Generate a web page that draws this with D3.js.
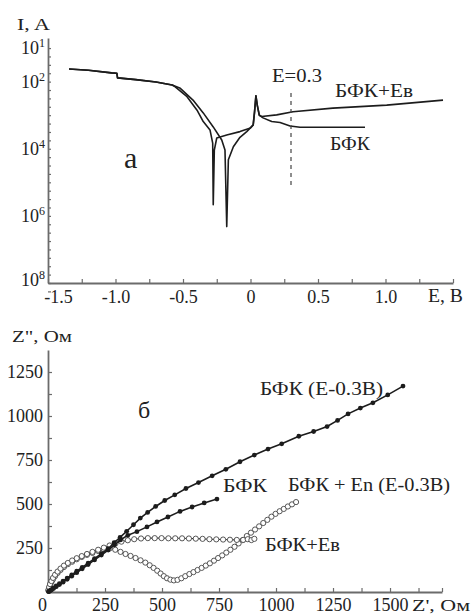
<!DOCTYPE html>
<html>
<head>
<meta charset="utf-8">
<script src="https://cdn.jsdelivr.net/npm/d3@7"></script>
<style>
  body { margin: 0; background: #fff; }
  svg text { font-family: "Liberation Serif", "Times New Roman", serif; fill: #222; }
</style>
</head>
<body>
<svg id="chart" width="471" height="615"></svg>
<script>
// ---- panel a: polarisation curves, [E (V), I (A)] ----
const bfkPolar = [
  [-1.344, 2.37e-2], [-1.20, 2.19e-2], [-1.03, 1.82e-2], [-0.99, 1.78e-2], [-0.985, 1.29e-2],
  [-0.85, 1.15e-2], [-0.70, 9.77e-3], [-0.58, 7.94e-3], [-0.56, 7.08e-3], [-0.47, 3.55e-3],
  [-0.396, 1.41e-3], [-0.35, 6.46e-4], [-0.30, 3.63e-4], [-0.28, 1.48e-4], [-0.276, 2.14e-6],
  [-0.268, 9.12e-5], [-0.25, 2.09e-4], [-0.176, 2.57e-4], [-0.078, 3.24e-4], [0.0, 4.17e-4],
  [0.02, 5.13e-4], [0.03, 1.26e-3], [0.04, 3.80e-3], [0.05, 2.00e-3], [0.065, 1.00e-3],
  [0.093, 8.32e-4], [0.157, 6.46e-4], [0.219, 6.03e-4], [0.293, 4.79e-4], [0.367, 4.37e-4],
  [0.848, 4.37e-4]
]
const bfkEvPolar = [
  [-1.344, 2.37e-2], [-1.20, 2.19e-2], [-1.03, 1.82e-2], [-0.99, 1.78e-2], [-0.985, 1.29e-2],
  [-0.85, 1.15e-2], [-0.70, 9.77e-3], [-0.58, 7.94e-3], [-0.52, 6.31e-3], [-0.426, 2.82e-3],
  [-0.35, 1.17e-3], [-0.276, 4.47e-4], [-0.213, 1.82e-4], [-0.189, 9.12e-5], [-0.176, 4.79e-7],
  [-0.164, 4.68e-5], [-0.127, 1.15e-4], [-0.078, 2.19e-4], [-0.028, 3.24e-4], [0.02, 5.13e-4],
  [0.03, 1.26e-3], [0.04, 3.80e-3], [0.05, 2.00e-3], [0.065, 1.00e-3], [0.083, 9.12e-4],
  [0.194, 1.02e-3], [0.315, 1.26e-3], [0.61, 1.62e-3], [1.009, 2.00e-3], [1.426, 2.82e-3]
]
const eTicks = [-1.5, -1.25, -1.0, -0.75, -0.5, -0.25, 0, 0.25, 0.5, 0.75, 1.0, 1.25, 1.5]
const eLabels = [-1.5, -1.0, -0.5, 0, 0.5, 1.0]
const iLabels = [1e-1, 1e-2, 1e-4, 1e-6, 1e-8]
const iLabelExp = ["1", "2", "4", "6", "8"]
const markE = 0.3

// ---- panel б: impedance, [Z' (Ohm), Z'' (Ohm)] ----
const bfkE03 = [
  [3, 3], [8, 8], [15, 14], [24, 23], [36, 34], [50, 47], [66, 62], [84, 79], [104, 97], [126, 118],
  [150, 140], [176, 164], [204, 190], [234, 218], [264, 246], [290, 280], [316, 310], [345, 345],
  [375, 382], [405, 420], [437, 452], [472, 486], [512, 520], [556, 552], [605, 588], [660, 622],
  [720, 660], [780, 697], [842, 740], [905, 778], [965, 812], [1025, 842], [1100, 885], [1165, 912],
  [1224, 940], [1270, 975], [1316, 1012], [1370, 1045], [1425, 1075], [1490, 1120], [1557, 1170]
]
const bfk = [
  [3, 2], [8, 6], [15, 12], [24, 20], [36, 30], [50, 42], [66, 56], [84, 72], [104, 90], [126, 110],
  [150, 132], [176, 156], [204, 182], [234, 210], [264, 238], [292, 268], [318, 296], [350, 322],
  [390, 343], [434, 370], [478, 398], [526, 426], [579, 458], [632, 483], [685, 506], [741, 528]
]
const bfkEn = [
  [2, 8], [5, 22], [9, 38], [15, 55], [22, 72], [31, 90], [42, 108], [55, 125], [70, 142], [87, 158],
  [106, 172], [126, 186], [148, 199], [171, 211], [195, 222], [220, 233], [245, 242], [270, 247],
  [295, 240], [318, 228], [340, 216], [362, 205], [384, 193], [406, 180], [427, 167], [446, 152],
  [463, 137], [479, 121], [494, 105], [508, 90], [522, 78], [537, 70], [552, 66], [568, 69],
  [585, 78], [602, 90], [620, 102], [638, 113], [656, 125], [674, 137], [692, 150], [710, 163],
  [728, 178], [746, 193], [764, 208], [782, 224], [800, 240], [818, 257], [836, 276], [854, 295],
  [872, 318], [890, 337], [908, 355], [926, 373], [944, 392], [962, 410], [980, 428], [998, 444],
  [1016, 459], [1034, 472], [1052, 486], [1070, 498], [1088, 511]
]
const bfkEv = [
  [2, 12], [5, 28], [9, 45], [15, 62], [22, 80], [31, 98], [42, 116], [55, 133], [70, 150], [87, 165],
  [106, 179], [126, 192], [148, 204], [171, 216], [195, 228], [220, 240], [245, 252], [270, 264],
  [296, 276], [322, 286], [350, 294], [378, 300], [408, 304], [438, 306], [468, 306], [498, 306],
  [528, 305], [558, 305], [588, 305], [618, 304], [648, 303], [678, 302], [708, 300], [738, 299],
  [768, 298], [798, 297], [828, 296], [856, 296], [876, 300], [892, 295], [905, 302]
]
const zTicks = [0, 125, 250, 375, 500, 625, 750, 875, 1000, 1125, 1250, 1375, 1500, 1625]
const zLabels = [0, 250, 500, 750, 1000, 1250, 1500]
const zyTicks = [125, 250, 375, 500, 625, 750, 875, 1000, 1125, 1250]
const zyLabels = [250, 500, 750, 1000, 1250]

const svg = d3.select("#chart")
const ink = "#1c1c1c"
const axisCol = "#6b6b6b"
const serif = "'Liberation Serif', 'Times New Roman', serif"

function styleAxis(g) {
    g.attr("font-family", null)
    g.select(".domain").attr("stroke", axisCol).attr("stroke-width", 1.8)
    g.selectAll(".tick line").attr("stroke", axisCol).attr("stroke-width", 1.2)
    g.selectAll(".tick text").attr("font-size", 18).style("font-family", serif).attr("fill", "#2a2a2a")
}

function label(x, y, txt, size, len) {
    const t = svg.append("text").attr("x", x).attr("y", y).attr("font-size", size)
        .style("font-family", serif).text(txt)
    if (len) t.attr("textLength", len).attr("lengthAdjust", "spacingAndGlyphs")
    return t
}

const fmtE = d => d === 0 ? "0" : (d < 0 ? "-" : "") + Math.abs(d).toFixed(1)

// ---------- panel a ----------
const xE = d3.scaleLinear().domain([-1.5, 1.5]).range([48, 453])
const yI = d3.scaleLog().domain([1e-8, 10 ** -0.7]).range([283, 38])
const iTicks = d3.range(0, 30).map(k => 10 ** (-1 - k / 4))

const gxA = svg.append("g")
    .attr("transform", "translate(0,283)")
    .call(d3.axisBottom(xE).tickValues(eTicks).tickSizeInner(-4).tickSizeOuter(0).tickPadding(7)
        .tickFormat(d => eLabels.includes(d) ? fmtE(d) : ""))
    .call(styleAxis)
// first label sits a little right of its tick, as in the source figure
gxA.selectAll(".tick text").filter(d => d === -1.5).attr("dx", 10)

svg.append("g")
    .attr("transform", "translate(48,0)")
    .call(d3.axisLeft(yI).tickValues(iTicks).tickSizeInner(-3).tickSizeOuter(0).tickFormat(() => ""))
    .call(styleAxis)

iLabels.forEach((v, i) => {
    const t = svg.append("text").attr("x", 45).attr("y", yI(v) + (i === 4 ? 3 : 6))
        .attr("text-anchor", "end").attr("font-size", 18).attr("fill", "#2a2a2a")
        .style("font-family", serif)
    t.append("tspan").text("10")
    t.append("tspan").attr("dy", -7).attr("font-size", 12).text(iLabelExp[i])
})

const lineA = d3.line().x(d => xE(d[0])).y(d => yI(d[1]))
;[bfkPolar, bfkEvPolar].forEach(s => {
    svg.append("path").datum(s).attr("d", lineA)
        .attr("fill", "none").attr("stroke", ink).attr("stroke-width", 1.6)
        .attr("stroke-linejoin", "round")
})

svg.append("line")
    .attr("x1", xE(markE)).attr("x2", xE(markE))
    .attr("y1", 93).attr("y2", 186)
    .attr("stroke", "#444").attr("stroke-width", 1.2).attr("stroke-dasharray", "4,4")

label(17, 30, "I, A", 17, 33)
label(428, 302, "E, В", 18, 35)
label(272, 82, "E=0.3", 18, 50)
label(335, 97, "БФК+Ев", 18, 78)
label(330, 150, "БФК", 18, 40)
label(124, 168, "а", 30)

// ---------- panel б ----------
const xZ = d3.scaleLinear().domain([0, 1728]).range([48, 442])
const yZ = d3.scaleLinear().domain([0, 1375]).range([592, 350])

const gxB = svg.append("g")
    .attr("transform", "translate(0,592)")
    .call(d3.axisBottom(xZ).tickValues(zTicks.concat([1728])).tickSizeInner(-4).tickSizeOuter(0).tickPadding(6)
        .tickFormat(d => zLabels.includes(d) ? String(d) : ""))
    .call(styleAxis)
gxB.selectAll(".tick text").filter(d => d === 0).attr("dx", -6)

svg.append("g")
    .attr("transform", "translate(48,0)")
    .call(d3.axisLeft(yZ).tickValues(zyTicks).tickSizeInner(-4).tickSizeOuter(0).tickPadding(5)
        .tickFormat(d => zyLabels.includes(d) ? String(d) : ""))
    .call(styleAxis)

const lineB = d3.line().x(d => xZ(d[0])).y(d => yZ(d[1]))

function series(data, filled) {
    svg.append("path").datum(data).attr("d", lineB)
        .attr("fill", "none").attr("stroke", filled ? ink : "#333")
        .attr("stroke-width", filled ? 1.6 : 1.1)
    svg.append("g").selectAll("circle").data(data).join("circle")
        .attr("cx", d => xZ(d[0])).attr("cy", d => yZ(d[1]))
        .attr("r", filled ? 2.4 : 2.6)
        .attr("fill", filled ? ink : "#fff")
        .attr("stroke", filled ? "none" : "#444")
        .attr("stroke-width", 0.9)
}
series(bfkEn, false)
series(bfkEv, false)
series(bfk, true)
series(bfkE03, true)

label(12, 342, "Z\", Ом", 17, 60)
label(412, 611, "Z', Ом", 17, 58)
label(138, 418, "б", 24)
label(260, 395, "БФК (E-0.3В)", 18, 123)
label(223, 492, "БФК", 18, 44)
label(288, 491, "БФК + En (E-0.3В)", 18, 162)
label(265, 551, "БФК+Ев", 18, 75)
</script>
</body>
</html>
